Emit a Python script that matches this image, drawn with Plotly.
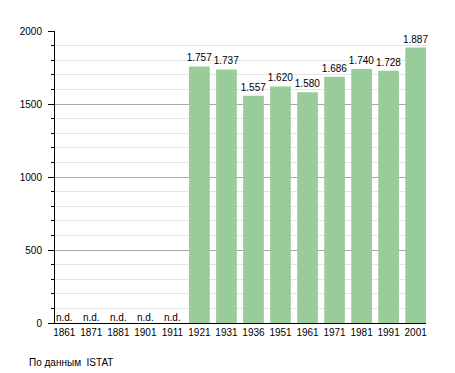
import plotly.graph_objects as go

years = ["1861", "1871", "1881", "1901", "1911", "1921", "1931", "1936",
         "1951", "1961", "1971", "1981", "1991", "2001"]
population = [None, None, None, None, None, 1757, 1737, 1557,
              1620, 1580, 1686, 1740, 1728, 1887]
y_ticks = [0, 500, 1000, 1500, 2000]
source_text = "По данным\u00a0 ISTAT"

bar_x = [y for y, v in zip(years, population) if v is not None]
bar_y = [v for v in population if v is not None]
bar_text = [f"{v:,}".replace(",", ".") for v in bar_y]
nd_x = [y for y, v in zip(years, population) if v is None]

FONT = "Liberation Sans, Arial, Helvetica, sans-serif"

fig = go.Figure()
fig.add_trace(go.Bar(
    x=bar_x, y=bar_y, text=bar_text, textposition="outside",
    constraintext="none",
    textfont=dict(size=10, color="#000000", family=FONT),
    marker=dict(color="#99cc99", line=dict(width=0)),
    cliponaxis=False, hoverinfo="skip",
))
fig.add_trace(go.Scatter(
    x=nd_x, y=[0] * len(nd_x), mode="text", text=["n.d."] * len(nd_x),
    textposition="top center",
    textfont=dict(size=10, color="#000000", family=FONT),
    hoverinfo="skip", cliponaxis=False,
))

fig.update_layout(
    width=447, height=365,
    margin=dict(l=42, r=29, t=23, b=50),
    paper_bgcolor="white", plot_bgcolor="white",
    showlegend=False, bargap=0.234,
    font=dict(family=FONT, size=10, color="#000000"),
    xaxis=dict(
        type="category", categoryorder="array", categoryarray=years,
        range=[-0.343, 13.383], showgrid=False, showline=True,
        linecolor="#000000", linewidth=1, ticks="", zeroline=False,
        tickfont=dict(size=10, family=FONT), fixedrange=True,
    ),
    yaxis=dict(
        range=[0, 2000], tickvals=y_ticks, showline=True,
        linecolor="#000000", linewidth=1, ticks="outside", ticklen=6,
        tickcolor="#000000", showgrid=True, gridcolor="#a8a8a8",
        gridwidth=1, zeroline=False, tickfont=dict(size=10, family=FONT),
        ticklabelstandoff=4,
        minor=dict(dtick=100, ticks="outside", ticklen=3, tickcolor="#000000",
                   showgrid=True, gridcolor="#e4e4e4", gridwidth=1),
        fixedrange=True,
    ),
    annotations=[dict(
        text=source_text, xref="paper", yref="paper",
        x=-0.0753, y=-0.1336, xanchor="left", yanchor="middle",
        showarrow=False, font=dict(size=10, family=FONT, color="#000000"),
    )],
)

fig.write_html("out.html")
